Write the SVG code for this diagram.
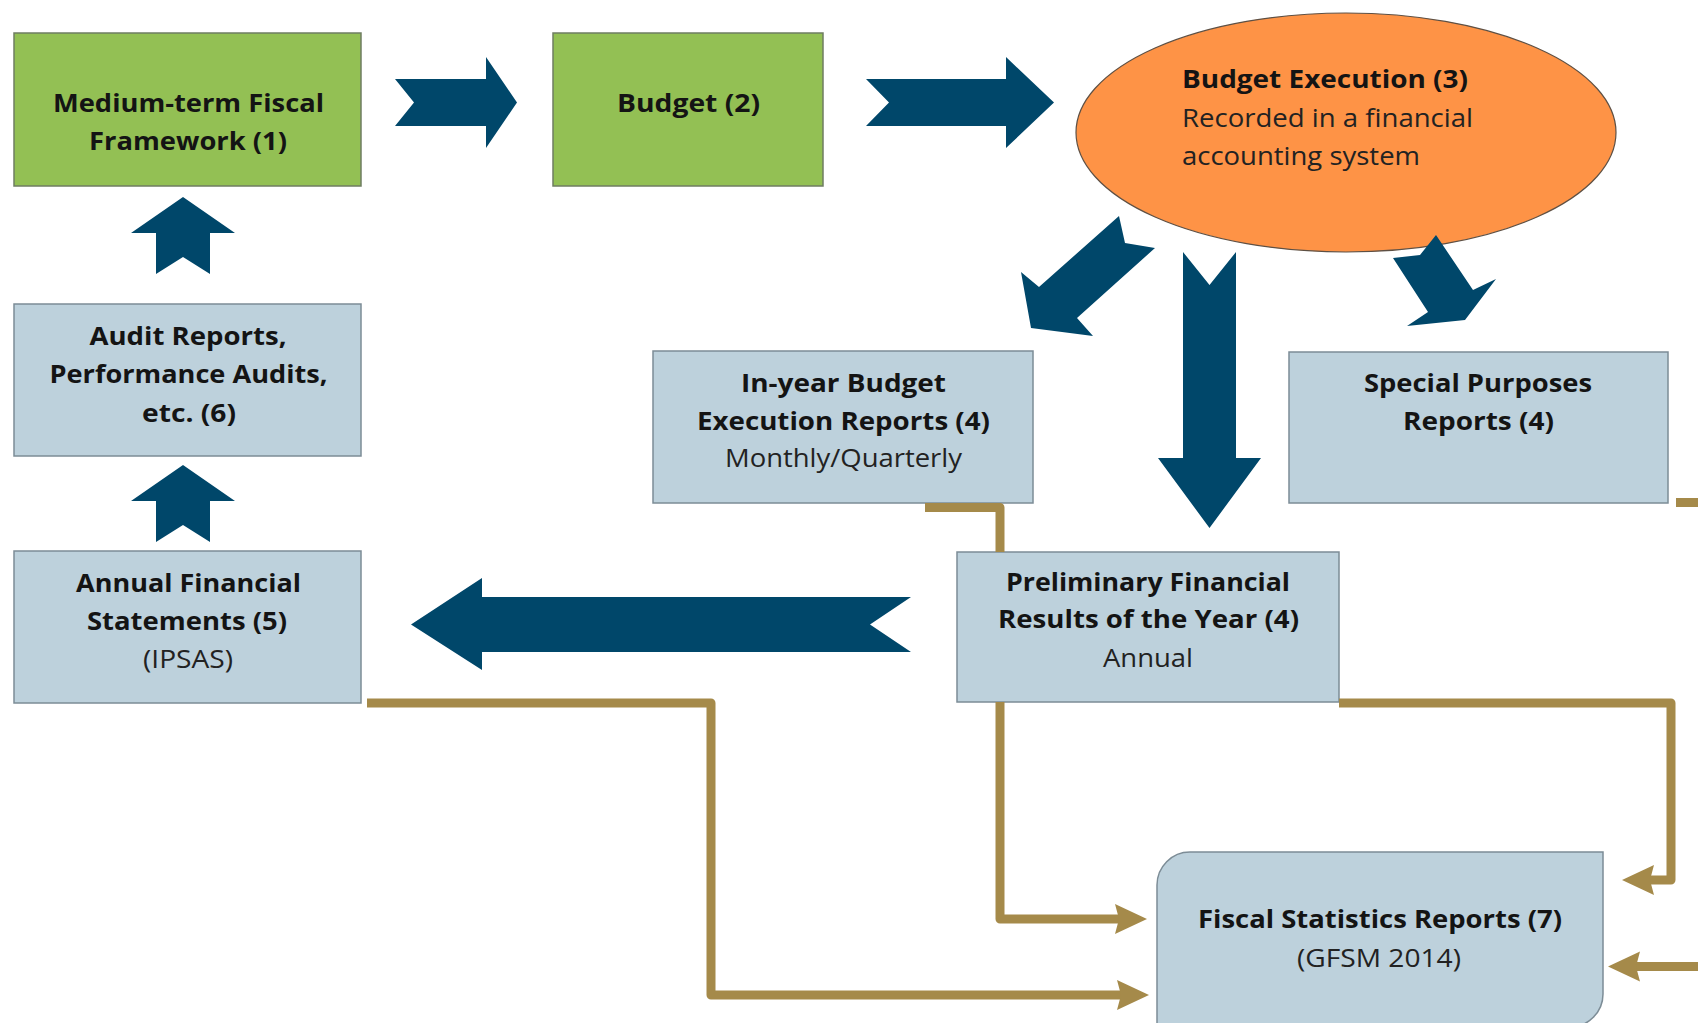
<svg xmlns="http://www.w3.org/2000/svg" width="1698" height="1023" viewBox="0 0 1698 1023">
<style>
.green{fill:#93C054;stroke:#6F7D62;stroke-width:1.5}
.blue{fill:#BDD1DC;stroke:#7C8C96;stroke-width:1.5}
.oval{fill:#FE9346;stroke:#5E5044;stroke-width:1.2}
.flow{fill:#00476A}
.gold{fill:none;stroke:#A58A4A;stroke-width:9;stroke-linejoin:round}
text{font-family:"Open Sans","Noto Sans","Liberation Sans",sans-serif;font-size:25px;fill:#141414}
.b{font-weight:bold}
.r{font-weight:normal;fill:#222}
.c{text-anchor:middle}
</style>
<defs>
<marker id="ah" markerUnits="userSpaceOnUse" markerWidth="34" markerHeight="32" viewBox="0 0 34 32" refX="6" refY="16" orient="auto">
<path d="M0,1 L32,16 L0,31 L4,16 Z" fill="#A58A4A"/>
</marker>
</defs>
<rect width="1698" height="1023" fill="#FFFFFF"/>

<g id="node-mtff">
<rect class="green" x="14" y="33" width="347" height="153"/>
<text class="b c" x="188.5" y="112" textLength="271" lengthAdjust="spacingAndGlyphs">Medium-term Fiscal</text>
<text class="b c" x="188" y="150" textLength="198" lengthAdjust="spacingAndGlyphs">Framework (1)</text>
</g>
<g id="node-budget">
<rect class="green" x="553" y="33" width="270" height="153"/>
<text class="b c" x="688.5" y="112" textLength="143" lengthAdjust="spacingAndGlyphs">Budget (2)</text>
</g>
<g id="node-execution">
<ellipse class="oval" cx="1346" cy="132.5" rx="270" ry="119.5"/>
<text class="b" x="1182" y="88" textLength="286" lengthAdjust="spacingAndGlyphs">Budget Execution (3)</text>
<text class="r" x="1182" y="127" textLength="291" lengthAdjust="spacingAndGlyphs">Recorded in a financial</text>
<text class="r" x="1182" y="165" textLength="238" lengthAdjust="spacingAndGlyphs">accounting system</text>
</g>
<g id="node-audit">
<rect class="blue" x="14" y="304" width="347" height="152"/>
<text class="b c" x="188" y="345" textLength="197" lengthAdjust="spacingAndGlyphs">Audit Reports,</text>
<text class="b c" x="188.5" y="383" textLength="278" lengthAdjust="spacingAndGlyphs">Performance Audits,</text>
<text class="b c" x="189" y="422" textLength="94" lengthAdjust="spacingAndGlyphs">etc. (6)</text>
</g>
<g id="node-afs">
<rect class="blue" x="14" y="551" width="347" height="152"/>
<text class="b c" x="188.5" y="592" textLength="225" lengthAdjust="spacingAndGlyphs">Annual Financial</text>
<text class="b c" x="187" y="630" textLength="200" lengthAdjust="spacingAndGlyphs">Statements (5)</text>
<text class="r c" x="188" y="668" textLength="90" lengthAdjust="spacingAndGlyphs">(IPSAS)</text>
</g>
<g id="node-inyear">
<rect class="blue" x="653" y="351" width="380" height="152"/>
<text class="b c" x="843.5" y="392" textLength="205" lengthAdjust="spacingAndGlyphs">In-year Budget</text>
<text class="b c" x="843.5" y="430" textLength="293" lengthAdjust="spacingAndGlyphs">Execution Reports (4)</text>
<text class="r c" x="843.5" y="467" textLength="237" lengthAdjust="spacingAndGlyphs">Monthly/Quarterly</text>
</g>
<g id="node-special">
<rect class="blue" x="1289" y="352" width="379" height="151"/>
<text class="b c" x="1478" y="392" textLength="228" lengthAdjust="spacingAndGlyphs">Special Purposes</text>
<text class="b c" x="1478.5" y="430" textLength="151" lengthAdjust="spacingAndGlyphs">Reports (4)</text>
</g>
<g id="node-preliminary">
<rect class="blue" x="957" y="552" width="382" height="150"/>
<text class="b c" x="1148" y="591" textLength="284" lengthAdjust="spacingAndGlyphs">Preliminary Financial</text>
<text class="b c" x="1148.5" y="628" textLength="301" lengthAdjust="spacingAndGlyphs">Results of the Year (4)</text>
<text class="r c" x="1148" y="667" textLength="90" lengthAdjust="spacingAndGlyphs">Annual</text>
</g>
<g id="node-fiscal">
<path class="blue" d="M1190,852 H1603 V994 A33,33 0 0 1 1570,1027 H1157 V885 A33,33 0 0 1 1190,852 Z"/>
<text class="b c" x="1380" y="928" textLength="364" lengthAdjust="spacingAndGlyphs">Fiscal Statistics Reports (7)</text>
<text class="r c" x="1379" y="967" textLength="164" lengthAdjust="spacingAndGlyphs">(GFSM 2014)</text>
</g>

<g id="connectors">
<polygon class="flow" points="395,79 486,79 486,57 517,102.5 486,148 486,126 395,126 414,102.5"/>
<polygon class="flow" points="866,79 1006,79 1006,57 1054,102.5 1006,148 1006,126 866,126 889,102.5"/>
<polygon class="flow" points="183,197 235,233 210,233 210,274 183,257 156,274 156,233 131,233"/>
<polygon class="flow" points="183,465 235,501 210,501 210,542 183,525 156,542 156,501 131,501"/>
<polygon class="flow" points="411,624.5 482,578 482,597 911,597 870,624.5 911,652 482,652 482,670"/>
<polygon class="flow" points="1183,252 1209.5,285 1236,252 1236,458 1261,458 1209.5,528 1158,458 1183,458"/>
<polygon class="flow" points="1119,216 1125,243 1155,248 1077,318 1093,336 1031,328 1021,272 1039,287"/>
<polygon class="flow" points="1393,258 1420,255 1436,235 1473,290 1496,279 1465,320 1407,326 1428,312"/>
<path class="gold" d="M925,507.5 H1000 V552 M1000,702 V919 H1121" marker-end="url(#ah)"/>
<path class="gold" d="M1339,703 H1671 V880 H1648" marker-end="url(#ah)"/>
<path class="gold" d="M367,703 H711 V995 H1123" marker-end="url(#ah)"/>
<path class="gold" d="M1698,966.5 H1634" marker-end="url(#ah)"/>
<path class="gold" d="M1676,502.5 H1698"/>
</g>
</svg>
